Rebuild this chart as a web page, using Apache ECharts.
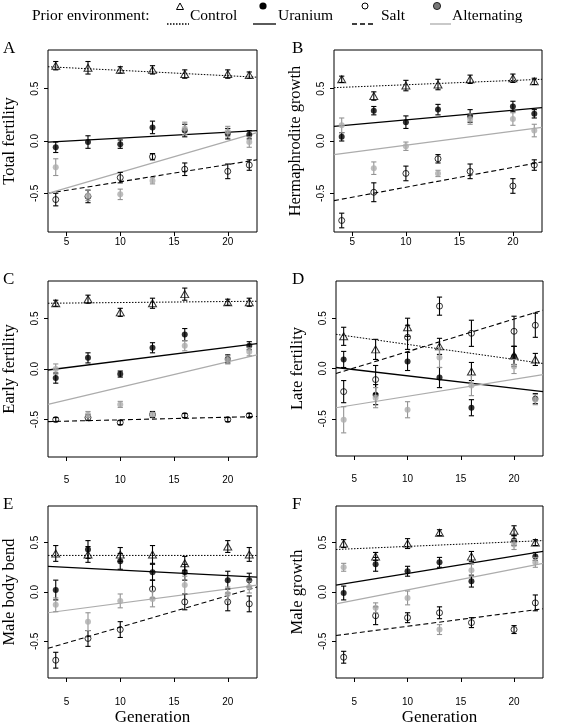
<!DOCTYPE html>
<html>
<head>
<meta charset="utf-8">
<script src="https://cdn.jsdelivr.net/npm/echarts@6/dist/echarts.min.js"></script>
<style>
html,body{margin:0;padding:0;background:#fff;}
#chart{width:567px;height:727px;}
</style>
</head>
<body>
<div id="chart"></div>
<script>
// ---------------- DATA ----------------
const generations = [4, 7, 10, 13, 16, 20, 22];
const xRange = [3.28, 22.72];
const xTicks = [5, 10, 15, 20];
const yTicks = [-0.5, 0, 0.5];
const yRange = [-0.87, 0.87];
const treatments = ['Control', 'Uranium', 'Salt', 'Alternating'];
const panelLetters = ['A', 'B', 'C', 'D', 'E', 'F'];
const panelTitles = ['Total fertility', 'Hermaphrodite growth', 'Early fertility', 'Late fertility', 'Male body bend', 'Male growth'];
const xTitle = 'Generation';
const legendTitle = 'Prior environment:';

// rows: Control, Uranium, Salt, Alternating ; columns: generations
const meansA = [
  [0.72, 0.70, 0.68, 0.68, 0.64, 0.64, 0.63],
  [-0.06, -0.01, -0.03, 0.13, 0.10, 0.07, 0.06],
  [-0.56, -0.53, -0.35, -0.15, -0.27, -0.29, -0.23],
  [-0.25, -0.52, -0.51, -0.38, 0.12, 0.09, -0.01]
];
const errA = [
  [0.04, 0.06, 0.03, 0.04, 0.04, 0.04, 0.03],
  [0.05, 0.06, 0.04, 0.06, 0.06, 0.05, 0.04],
  [0.06, 0.06, 0.05, 0.03, 0.06, 0.07, 0.05],
  [0.08, 0.05, 0.05, 0.03, 0.06, 0.05, 0.05]
];
const fitA = [[0.71, 0.61], [-0.01, 0.10], [-0.50, -0.18], [-0.50, 0.08]];

const meansB = [
  [0.59, 0.43, 0.53, 0.54, 0.59, 0.60, 0.57],
  [0.04, 0.29, 0.18, 0.30, 0.24, 0.33, 0.26],
  [-0.76, -0.49, -0.31, -0.17, -0.29, -0.43, -0.23],
  [0.15, -0.26, -0.05, -0.31, 0.21, 0.21, 0.10]
];
const errB = [
  [0.03, 0.04, 0.05, 0.05, 0.04, 0.04, 0.03],
  [0.04, 0.04, 0.06, 0.05, 0.06, 0.05, 0.04],
  [0.07, 0.09, 0.07, 0.04, 0.07, 0.07, 0.05],
  [0.07, 0.06, 0.04, 0.03, 0.05, 0.06, 0.06]
];
const fitB = [[0.51, 0.59], [0.14, 0.32], [-0.57, -0.20], [-0.13, 0.13]];

const meansC = [
  [0.65, 0.69, 0.56, 0.65, 0.74, 0.66, 0.66],
  [-0.09, 0.11, -0.05, 0.21, 0.34, 0.10, 0.23],
  [-0.50, -0.48, -0.53, -0.45, -0.46, -0.50, -0.46],
  [0.00, -0.45, -0.35, -0.45, 0.23, 0.09, 0.17]
];
const errC = [
  [0.03, 0.04, 0.04, 0.05, 0.06, 0.03, 0.04],
  [0.05, 0.05, 0.03, 0.05, 0.06, 0.04, 0.04],
  [0.02, 0.03, 0.02, 0.03, 0.02, 0.02, 0.02],
  [0.05, 0.03, 0.03, 0.02, 0.05, 0.04, 0.04]
];
const fitC = [[0.65, 0.67], [-0.01, 0.25], [-0.52, -0.47], [-0.35, 0.14]];

const meansD = [
  [0.32, 0.19, 0.41, 0.22, -0.03, 0.13, 0.09],
  [0.09, -0.26, 0.07, -0.09, -0.39, 0.12, -0.30],
  [-0.23, -0.11, 0.31, 0.62, 0.35, 0.37, 0.43],
  [-0.51, -0.29, -0.41, 0.11, -0.17, 0.02, -0.31]
];
const errD = [
  [0.09, 0.10, 0.09, 0.08, 0.09, 0.09, 0.06],
  [0.08, 0.10, 0.09, 0.10, 0.08, 0.10, 0.05],
  [0.11, 0.14, 0.12, 0.09, 0.13, 0.15, 0.12],
  [0.13, 0.10, 0.08, 0.10, 0.10, 0.07, 0.05]
];
const fitD = [[0.34, 0.05], [0.01, -0.23], [-0.05, 0.58], [-0.39, -0.06]];

const meansE = [
  [0.39, 0.38, 0.38, 0.38, 0.29, 0.46, 0.38],
  [0.02, 0.43, 0.31, 0.20, 0.20, 0.12, 0.12],
  [-0.69, -0.47, -0.38, 0.03, -0.10, -0.10, -0.12],
  [-0.13, -0.30, -0.09, -0.07, 0.07, -0.02, 0.05]
];
const errE = [
  [0.08, 0.08, 0.07, 0.09, 0.07, 0.06, 0.07],
  [0.10, 0.09, 0.08, 0.08, 0.08, 0.09, 0.07],
  [0.08, 0.08, 0.08, 0.09, 0.08, 0.09, 0.08],
  [0.07, 0.09, 0.07, 0.08, 0.09, 0.07, 0.06]
];
const fitE = [[0.37, 0.37], [0.26, 0.15], [-0.57, 0.05], [-0.21, 0.07]];

const meansF = [
  [0.49, 0.36, 0.49, 0.60, 0.36, 0.62, 0.50],
  [-0.01, 0.28, 0.21, 0.30, 0.11, 0.52, 0.36],
  [-0.66, -0.24, -0.26, -0.21, -0.31, -0.38, -0.11],
  [0.25, -0.16, -0.06, -0.38, 0.22, 0.48, 0.30]
];
const errF = [
  [0.04, 0.04, 0.05, 0.03, 0.05, 0.05, 0.03],
  [0.07, 0.07, 0.05, 0.05, 0.06, 0.05, 0.04],
  [0.06, 0.09, 0.05, 0.06, 0.05, 0.04, 0.08],
  [0.04, 0.05, 0.07, 0.05, 0.06, 0.05, 0.05]
];
const fitF = [[0.43, 0.52], [0.07, 0.41], [-0.44, -0.17], [-0.12, 0.29]];

// ---------------- LAYOUT / STYLE ----------------
const SERIF = '"Liberation Serif", "Times New Roman", serif';
const SANS = '"Liberation Sans", Arial, sans-serif';
const GRAY = '#acacac';

const panelData = [
  [meansA, errA, fitA], [meansB, errB, fitB],
  [meansC, errC, fitC], [meansD, errD, fitD],
  [meansE, errE, fitE], [meansF, errF, fitF]
];
const grids = [
  {left: 48, top: 50, width: 209, height: 182},
  {left: 334, top: 50, width: 208, height: 182},
  {left: 48, top: 281, width: 209, height: 176},
  {left: 336, top: 281, width: 207, height: 175},
  {left: 48, top: 506, width: 209, height: 178},
  {left: 336, top: 506, width: 207, height: 179}
];
const xLabelMargin = [5, 5, 18, 18, 19, 19];

const pointStyle = [
  {symbol: 'triangle', size: [8, 7], itemStyle: {color: 'rgba(0,0,0,0)', borderColor: '#000', borderWidth: 1}},
  {symbol: 'circle', size: 6, itemStyle: {color: '#000', borderWidth: 0}},
  {symbol: 'circle', size: 6, itemStyle: {color: 'rgba(0,0,0,0)', borderColor: '#000', borderWidth: 1}},
  {symbol: 'circle', size: 6, itemStyle: {color: GRAY, borderWidth: 0}}
];
const barColor = ['#000', '#000', '#000', '#939393'];
const fitStyle = [
  {color: '#000', width: 1, type: [1.5, 1.5]},
  {color: '#000', width: 1.3, type: 'solid'},
  {color: '#000', width: 1.1, type: [5, 3]},
  {color: GRAY, width: 1.2, type: 'solid'}
];

function errorBarRender(color) {
  return function (params, api) {
    const x = api.value(0), lo = api.value(1), hi = api.value(2);
    const p1 = api.coord([x, lo]);
    const p2 = api.coord([x, hi]);
    const cw = 2.6;
    const style = {stroke: color, lineWidth: 1.1, fill: null};
    return {
      type: 'group',
      children: [
        {type: 'line', shape: {x1: p1[0], y1: p1[1], x2: p2[0], y2: p2[1]}, style: style},
        {type: 'line', shape: {x1: p1[0] - cw, y1: p1[1], x2: p1[0] + cw, y2: p1[1]}, style: style},
        {type: 'line', shape: {x1: p2[0] - cw, y1: p2[1], x2: p2[0] + cw, y2: p2[1]}, style: style}
      ]
    };
  };
}

const option = {
  animation: false,
  backgroundColor: '#fff',
  grid: [], xAxis: [], yAxis: [], series: [], graphic: []
};

panelData.forEach(function (pd, i) {
  const means = pd[0], errs = pd[1], fits = pd[2];
  const g = grids[i];
  option.grid.push({left: g.left, top: g.top, width: g.width, height: g.height,
    show: true, borderColor: '#000', borderWidth: 1, backgroundColor: 'transparent', containLabel: false});
  const bottomRow = i >= 4;
  option.xAxis.push({
    gridIndex: i, type: 'value', min: xRange[0], max: xRange[1], position: 'bottom',
    axisLine: {show: false, onZero: false}, splitLine: {show: false},
    axisTick: {show: true, customValues: xTicks, length: 4, lineStyle: {color: '#000', width: 1}},
    axisLabel: {customValues: xTicks, fontFamily: SANS, fontSize: 10, color: '#000', margin: xLabelMargin[i]},
    name: bottomRow ? xTitle : '', nameLocation: 'middle', nameGap: 31,
    nameTextStyle: {fontFamily: SERIF, fontSize: 17, color: '#000'}
  });
  option.yAxis.push({
    gridIndex: i, type: 'value', min: yRange[0], max: yRange[1], position: 'left',
    axisLine: {show: false, onZero: false}, splitLine: {show: false},
    axisTick: {show: true, customValues: yTicks, length: 4, lineStyle: {color: '#000', width: 1}},
    axisLabel: {customValues: yTicks, rotate: 90, fontFamily: SANS, fontSize: 10, color: '#000', margin: 8,
      formatter: function (v) { return v.toFixed(1); }},
    name: panelTitles[i], nameLocation: 'middle', nameRotate: 90, nameGap: 30,
    nameTextStyle: {fontFamily: SERIF, fontSize: 16.5, color: '#000'}
  });
  // regression lines
  treatments.forEach(function (t, k) {
    option.series.push({
      type: 'line', name: t + ' fit', xAxisIndex: i, yAxisIndex: i,
      data: [[xRange[0], fits[k][0]], [xRange[1], fits[k][1]]],
      symbol: 'none', silent: true, z: 1,
      lineStyle: {color: fitStyle[k].color, width: fitStyle[k].width, type: fitStyle[k].type}
    });
  });
  // error bars + points
  treatments.forEach(function (t, k) {
    option.series.push({
      type: 'custom', name: t + ' se', xAxisIndex: i, yAxisIndex: i, z: 2 + k,
      renderItem: errorBarRender(barColor[k]),
      encode: {x: 0, y: [1, 2]},
      data: generations.map(function (gen, j) { return [gen, means[k][j] - errs[k][j], means[k][j] + errs[k][j]]; })
    });
    option.series.push({
      type: 'scatter', name: t, xAxisIndex: i, yAxisIndex: i, z: 2 + k,
      symbol: pointStyle[k].symbol, symbolSize: pointStyle[k].size,
      itemStyle: pointStyle[k].itemStyle,
      data: generations.map(function (gen, j) { return [gen, means[k][j]]; })
    });
  });
  // panel letter
  option.graphic.push({
    type: 'text', left: (i % 2 === 0) ? 3 : 292, top: g.top - 10,
    style: {text: panelLetters[i], font: '17px ' + SERIF, fill: '#000'}
  });
});

// legend (drawn as graphics)
const legendY = 17;
option.graphic.push({type: 'text', left: 32, top: legendY - 9, style: {text: legendTitle, font: '15.5px ' + SERIF, fill: '#000'}});
const legendSpec = [
  {sx: 180, lx: [167, 189], tx: 190},
  {sx: 263, lx: [253, 276], tx: 278},
  {sx: 365, lx: [352, 375], tx: 381},
  {sx: 437, lx: [430, 451], tx: 452}
];
legendSpec.forEach(function (s, k) {
  let sym;
  if (k === 0) {
    sym = {type: 'polygon', shape: {points: [[s.sx, 3], [s.sx - 3.5, 9.5], [s.sx + 3.5, 9.5]]}, style: {fill: 'none', stroke: '#000', lineWidth: 1}};
  } else if (k === 1) {
    sym = {type: 'circle', shape: {cx: s.sx, cy: 6, r: 3.6}, style: {fill: '#000'}};
  } else if (k === 2) {
    sym = {type: 'circle', shape: {cx: s.sx, cy: 6, r: 3}, style: {fill: 'none', stroke: '#000', lineWidth: 1}};
  } else {
    sym = {type: 'circle', shape: {cx: s.sx, cy: 6, r: 3.6}, style: {fill: '#777', stroke: '#000', lineWidth: 0.8}};
  }
  option.graphic.push(sym);
  option.graphic.push({type: 'line', shape: {x1: s.lx[0], y1: 24, x2: s.lx[1], y2: 24},
    style: {stroke: fitStyle[k].color, lineWidth: 1.3, lineDash: Array.isArray(fitStyle[k].type) ? fitStyle[k].type : null}});
  option.graphic.push({type: 'text', left: s.tx, top: legendY - 9, style: {text: treatments[k], font: '15.5px ' + SERIF, fill: '#000'}});
});

const chart = echarts.init(document.getElementById('chart'), null, {renderer: 'canvas'});
chart.setOption(option);
</script>
</body>
</html>
